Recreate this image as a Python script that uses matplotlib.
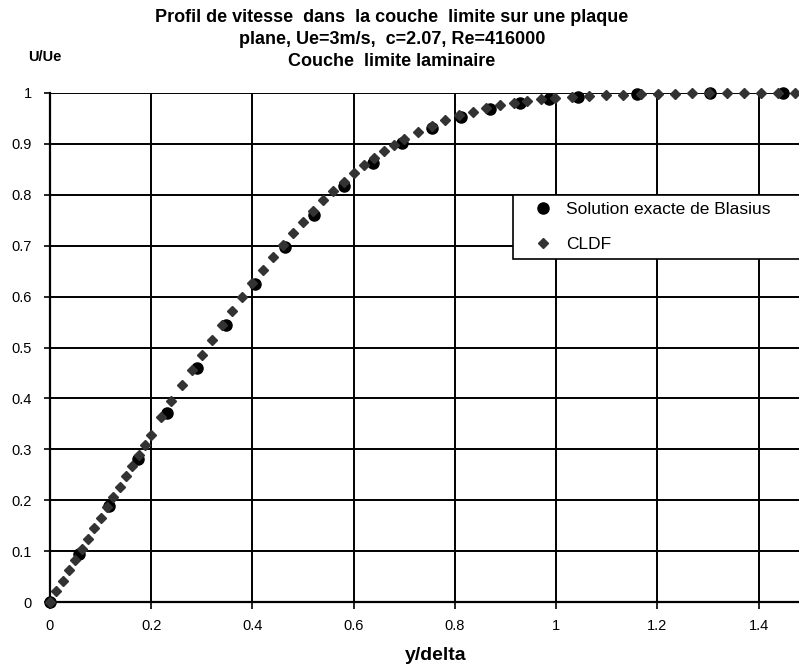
import matplotlib
matplotlib.use("Agg")
import matplotlib.pyplot as plt

plt.rcParams['font.family'] = ['Liberation Sans', 'DejaVu Sans']

# Solution exacte de Blasius (cercles)
blasius_x = [0, 0.058, 0.116, 0.174, 0.232, 0.290, 0.348, 0.406, 0.464, 0.522,
             0.580, 0.638, 0.696, 0.754, 0.812, 0.870, 0.928, 0.986, 1.043,
             1.159, 1.304, 1.449]
blasius_y = [0, 0.094, 0.188, 0.281, 0.372, 0.460, 0.544, 0.625, 0.697, 0.761,
             0.817, 0.863, 0.901, 0.931, 0.953, 0.969, 0.980, 0.988, 0.993,
             0.998, 1.000, 1.000]

# CLDF (losanges)
cldf_x = [0, 0.0125, 0.025, 0.0375, 0.05, 0.0625, 0.075, 0.0875, 0.1, 0.1125,
          0.125, 0.1375, 0.15, 0.1625, 0.175, 0.1875, 0.2,
          0.22, 0.24, 0.26, 0.28, 0.30, 0.32, 0.34, 0.36, 0.38, 0.40, 0.42,
          0.44, 0.46, 0.48, 0.50, 0.52, 0.54, 0.56, 0.58, 0.60, 0.62, 0.64,
          0.66, 0.68, 0.70,
          0.727, 0.754, 0.781, 0.808, 0.835, 0.862, 0.889, 0.916, 0.943,
          0.970, 0.997,
          1.031, 1.065, 1.099, 1.133, 1.167, 1.201, 1.235, 1.269, 1.303,
          1.337, 1.371, 1.405, 1.439, 1.473]
cldf_y = [0, 0.021, 0.042, 0.062, 0.083, 0.104, 0.124, 0.145, 0.165, 0.186,
          0.206, 0.226, 0.247, 0.267, 0.288, 0.308, 0.328,
          0.363, 0.395, 0.426, 0.456, 0.486, 0.515, 0.544, 0.572, 0.600,
          0.627, 0.653, 0.678, 0.702, 0.725, 0.747, 0.769, 0.789, 0.808,
          0.826, 0.842, 0.858, 0.873, 0.886, 0.898, 0.910,
          0.923, 0.936, 0.946, 0.956, 0.963, 0.970, 0.976, 0.980, 0.984,
          0.988, 0.990,
          0.992, 0.994, 0.996, 0.997, 0.998, 0.999, 0.999, 1.0, 1.0,
          1.0, 1.0, 1.0, 1.0, 1.0]

x_ticks = [0, 0.2, 0.4, 0.6, 0.8, 1.0, 1.2, 1.4]
x_labels = ['0', '0.2', '0.4', '0.6', '0.8', '1', '1.2', '1.4']
y_ticks = [0, 0.1, 0.2, 0.3, 0.4, 0.5, 0.6, 0.7, 0.8, 0.9, 1.0]
y_labels = ['0', '0.1', '0.2', '0.3', '0.4', '0.5', '0.6', '0.7', '0.8', '0.9', '1']

title_lines = ["Profil de vitesse  dans  la couche  limite sur une plaque",
               "plane, Ue=3m/s,  c=2.07, Re=416000",
               "Couche  limite laminaire"]

W, H = 799, 667
fig = plt.figure(figsize=(W / 100, H / 100), dpi=100)
ax = fig.add_axes([50 / W, 1 - 602 / H, 1 - 50 / W, (602 - 93) / H])

ax.set_xlim(0, 1.48)
ax.set_ylim(0, 1)
ax.set_xticks(x_ticks)
ax.set_xticklabels(x_labels)
ax.set_yticks(y_ticks)
ax.set_yticklabels(y_labels)
ax.grid(True, color='black', linewidth=1.4)
ax.set_axisbelow(True)
for s in ['top', 'right']:
    ax.spines[s].set_visible(False)
for s in ['left', 'bottom']:
    ax.spines[s].set_linewidth(1.6)
ax.tick_params(axis='x', direction='out', length=5, width=1.2, pad=7, labelsize=10.5)
ax.tick_params(axis='y', direction='out', length=4, width=1.2, pad=9, labelsize=10.5)

ax.plot(blasius_x, blasius_y, 'o', color='black', markersize=8,
        linestyle='none', clip_on=False, zorder=3, label='Solution exacte de Blasius')
ax.plot(cldf_x, cldf_y, 'D', color='#333333', markersize=5.5,
        linestyle='none', clip_on=False, zorder=4, label='CLDF')

for i, line in enumerate(title_lines):
    fig.text(392 / W, 1 - (18 + 22 * i) / H, line, ha='center', va='center',
             fontsize=13, fontweight='bold')
fig.text(28 / W, 1 - 57 / H, "U/Ue", ha='left', va='center',
         fontsize=10.5, fontweight='bold')
fig.text(436 / W, 1 - 655 / H, "y/delta", ha='center', va='center',
         fontsize=14, fontweight='bold')

leg = fig.legend(loc='upper left',
                 bbox_to_anchor=(513 / W, 1 - 258 / H, 300 / W, 63 / H),
                 mode='expand', fancybox=False, edgecolor='black', framealpha=1,
                 fontsize=12.5, handletextpad=0.05, handlelength=2.6,
                 borderpad=0.4, labelspacing=1.15, borderaxespad=0)
leg.get_frame().set_linewidth(1.2)

fig.savefig('out.png', dpi=100)
